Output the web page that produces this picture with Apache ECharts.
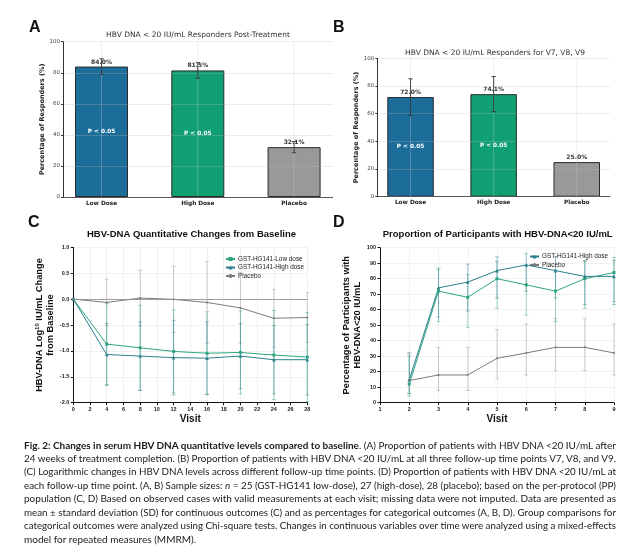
<!DOCTYPE html>
<html><head><meta charset="utf-8">
<script src="https://cdn.jsdelivr.net/npm/echarts@6.0.0/dist/echarts.min.js"></script>
<style>
html,body{margin:0;padding:0;background:#fff;}
#wrap{position:relative;width:640px;height:554px;overflow:hidden;background:#fff;}
#chart{position:absolute;left:0;top:0;width:640px;height:554px;}
#cap{position:absolute;left:24px;top:438.5px;width:592px;font-family:Lato,"Open Sans",sans-serif;font-size:10px;color:#1a1a1a;}
.ln{height:13.45px;line-height:13.45px;white-space:nowrap;}
.ln span.in{display:inline-block;transform-origin:0 50%;}
</style></head><body>
<div id="wrap"><div id="chart"></div><div id="cap"></div></div>
<script>
// ---------- Data ----------
const catsAB = ['Low Dose', 'High Dose', 'Placebo'];
const respA = [84.0, 81.5, 32.1];
const errA = [5.0, 5.0, 3.6];
const respB = [72.0, 74.1, 25.0];
const errB = [13.2, 12.7, 0];
const pText = ['P < 0.05', 'P < 0.05', ''];

const visitsC = [0, 4, 8, 12, 16, 20, 24, 28];
const lowC = [0, -0.87, -0.94, -1.01, -1.045, -1.03, -1.08, -1.12];
const lowSdC = [0, 0.78, 0.82, 0.80, 0.80, 0.80, 0.86, 0.86];
const highC = [0, -1.07, -1.10, -1.13, -1.14, -1.10, -1.17, -1.17];
const highSdC = [0, 0.60, 0.66, 0.72, 0.70, 0.63, 0.66, 0.68];
const placeboC = [0, -0.065, 0.02, -0.005, -0.065, -0.17, -0.37, -0.355];
const placeboSdC = [0, 0.45, 0.54, 0.64, 0.79, 0.68, 0.56, 0.48];

const visitsD = [2, 3, 4, 5, 6, 7, 8, 9];
const lowD = [12, 72, 68, 80, 76, 72, 80, 84];
const lowLoD = [4.2, 52.4, 48.4, 60.9, 56.6, 52.4, 60.9, 65.3];
const lowHiD = [30.0, 85.7, 82.8, 91.1, 88.5, 85.7, 91.1, 93.6];
const highD = [14.8, 74.1, 77.8, 85.2, 88.9, 85.2, 81.5, 81.5];
const highLoD = [5.9, 55.3, 59.2, 67.5, 71.9, 67.5, 63.3, 63.3];
const highHiD = [32.5, 86.8, 89.4, 94.1, 96.1, 94.1, 91.8, 91.8];
const placeboD = [14.3, 17.9, 17.9, 28.6, 32.1, 35.7, 35.7, 32.1];
const placeboLoD = [5.7, 7.9, 7.9, 15.3, 17.9, 20.7, 20.7, 17.9];
const placeboHiD = [31.5, 35.6, 35.6, 47.1, 50.7, 54.2, 54.2, 50.7];

const nameLow = 'GST-HG141-Low dose';
const nameHigh = 'GST-HG141-High dose';
const namePlacebo = 'Placebo';

// ---------- Styles ----------
const FA = 'DejaVu Sans';
const FC = 'Liberation Sans, Arial, sans-serif';
const barColors = ['#1d6d9b', '#119f74', '#98999b'];
const cLow = '#2ea581', cHigh = '#2a7f8d', cPl = '#7b7b7b';
const eLow = 'rgba(46,165,129,0.55)', eHigh = 'rgba(42,127,141,0.55)', ePl = 'rgba(140,140,140,0.5)';

function errRender(color, cap, w) {
  return function (params, api) {
    const x = api.value(0), lo = api.value(1), hi = api.value(2);
    if (!(hi > lo)) return null;
    const a = api.coord([x, hi]), b = api.coord([x, lo]);
    const st = { stroke: color, lineWidth: w, fill: null };
    return { type: 'group', children: [
      { type: 'line', shape: { x1: a[0], y1: a[1], x2: b[0], y2: b[1] }, style: st },
      { type: 'line', shape: { x1: a[0] - cap, y1: a[1], x2: a[0] + cap, y2: a[1] }, style: st },
      { type: 'line', shape: { x1: b[0] - cap, y1: b[1], x2: b[0] + cap, y2: b[1] }, style: st }
    ] };
  };
}
// vertical grid line at each category centre (drawn above the bars, faint)
function vGridRender(params, api) {
  const x = api.value(0);
  const a = api.coord([x, 100]), b = api.coord([x, 0]);
  return { type: 'line', shape: { x1: a[0], y1: a[1], x2: b[0], y2: b[1] },
    style: { stroke: 'rgba(200,200,200,0.4)', lineWidth: 0.8 } };
}

function barX(gi) {
  return { gridIndex: gi, type: 'value', min: -0.4, max: 2.4,
    axisLine: { show: true, onZero: false, lineStyle: { color: '#333', width: 1 } },
    axisTick: { show: false }, splitLine: { show: false },
    axisLabel: { customValues: catsAB.map((c, i) => i), formatter: v => catsAB[v] || '',
      fontFamily: FA, fontWeight: 'bold', fontSize: 5.8, color: '#222', margin: 3 } };
}
function barY(gi, gap) {
  return { gridIndex: gi, type: 'value', min: 0, max: 100, interval: 20, z: 3,
    axisLine: { show: true, onZero: false, lineStyle: { color: '#333', width: 1 } },
    axisTick: { show: true, length: 2, lineStyle: { color: '#333' } },
    axisLabel: { fontSize: 5.5, color: '#444', fontFamily: FA, margin: 3 },
    splitLine: { show: true, lineStyle: { color: 'rgba(185,185,185,0.35)', width: 0.8 } },
    name: 'Percentage of Responders (%)', nameLocation: 'middle', nameGap: gap,
    nameTextStyle: { fontFamily: FA, fontWeight: 'bold', fontSize: 6.5, color: '#222' } };
}
function barSeries(gi, vals, errs, bw) {
  return [
    { type: 'bar', xAxisIndex: gi, yAxisIndex: gi, barWidth: bw, barGap: '-100%', z: 2,
      data: vals.map((v, i) => ({ value: [i, v], itemStyle: { color: barColors[i] } })),
      itemStyle: { borderColor: '#2a2a2a', borderWidth: 1 },
      label: { show: true, position: 'top', distance: 1.5, formatter: p => p.value[1].toFixed(1) + '%',
        fontFamily: FA, fontWeight: 'bold', fontSize: 6, color: '#333' } },
    { type: 'bar', xAxisIndex: gi, yAxisIndex: gi, barWidth: bw, barGap: '-100%', z: 4,
      data: vals.map((v, i) => [i, v]), itemStyle: { color: 'rgba(0,0,0,0)' },
      label: { show: true, position: 'inside', formatter: p => pText[p.dataIndex],
        fontFamily: FA, fontWeight: 'bold', fontSize: 5.8, color: '#fff' } },
    { type: 'custom', xAxisIndex: gi, yAxisIndex: gi, z: 3, silent: true,
      data: catsAB.map((c, i) => [i]), renderItem: vGridRender },
    { type: 'custom', xAxisIndex: gi, yAxisIndex: gi, z: 5,
      data: vals.map((v, i) => [i, v - errs[i], v + errs[i]]),
      renderItem: errRender('#333', 2.2, 0.9) }
  ];
}
function lineX(gi, min, max, interval) {
  return { gridIndex: gi, type: 'value', min: min, max: max, interval: interval,
    axisLine: { show: true, onZero: false, lineStyle: { color: '#111', width: 1 } },
    axisTick: { show: true, length: 2.5, lineStyle: { color: '#111' } },
    axisLabel: { fontSize: 5.5, fontWeight: 'bold', fontFamily: FC, color: '#222', margin: 4 },
    splitLine: { show: true, lineStyle: { color: '#e8e8e8', width: 0.6 } },
    name: 'Visit', nameLocation: 'middle', nameGap: 12,
    nameTextStyle: { fontFamily: FC, fontWeight: 'bold', fontSize: 10, color: '#111' } };
}
function lineY(gi, min, max, interval, fmt, name, gap, rich) {
  const y = { gridIndex: gi, type: 'value', min: min, max: max, interval: interval,
    axisLine: { show: true, onZero: false, lineStyle: { color: '#111', width: 1 } },
    axisTick: { show: true, length: 2.5, lineStyle: { color: '#111' } },
    axisLabel: { fontSize: 5.5, fontWeight: 'bold', fontFamily: FC, color: '#222', margin: 4, formatter: fmt },
    splitLine: { show: true, lineStyle: { color: '#e8e8e8', width: 0.6 } },
    name: name, nameLocation: 'middle', nameGap: gap,
    nameTextStyle: { fontFamily: FC, fontWeight: 'bold', fontSize: 9.3, color: '#111', lineHeight: 11, align: 'center' } };
  if (rich) y.nameTextStyle.rich = rich;
  return y;
}
function lineS(gi, name, xs, ys, color, symbol, size) {
  return { type: 'line', name: name, xAxisIndex: gi, yAxisIndex: gi, z: 4,
    data: xs.map((x, i) => [x, ys[i]]), symbol: symbol, symbolSize: size,
    lineStyle: { width: 1, color: color }, itemStyle: { color: color } };
}
function errS(gi, xs, lo, hi, color) {
  return { type: 'custom', xAxisIndex: gi, yAxisIndex: gi, z: 3,
    data: xs.map((x, i) => [x, lo[i], hi[i]]), renderItem: errRender(color, 2, 0.8) };
}

const richC = {
  a: { fontFamily: FC, fontWeight: 'bold', fontSize: 9.3, color: '#111', lineHeight: 10.7 },
  s: { fontFamily: FC, fontWeight: 'bold', fontSize: 6, color: '#111', lineHeight: 6, verticalAlign: 'top' }
};

const plC = lineS(2, namePlacebo, visitsC, placeboC, cPl, 'circle', 2);
plC.markLine = { silent: true, symbol: 'none', label: { show: false }, animation: false,
  lineStyle: { color: '#8a8a8a', type: 'solid', width: 0.8 }, data: [{ yAxis: 0 }] };

const legendCommon = { orient: 'vertical', itemWidth: 9, itemHeight: 5, itemGap: 2.5, selectedMode: false,
  textStyle: { fontFamily: FC, fontSize: 6.4, color: '#222', padding: [0, 0, 0, -2] } };

const option = {
  animation: false,
  backgroundColor: '#fff',
  grid: [
    { left: 63, top: 41.7, width: 269.6, height: 155.3, outerBoundsMode: 'none' },
    { left: 377.3, top: 58.3, width: 232.7, height: 138.4, outerBoundsMode: 'none' },
    { left: 73.3, top: 247.3, width: 234, height: 155.4, outerBoundsMode: 'none' },
    { left: 380, top: 247.7, width: 234, height: 155, outerBoundsMode: 'none' }
  ],
  xAxis: [barX(0), barX(1), lineX(2, 0, 28, 2), lineX(3, 1, 9, 1)],
  yAxis: [
    barY(0, 15), barY(1, 13),
    lineY(2, -2, 1, 0.5, v => v.toFixed(1),
      '{a|HBV-DNA Log}{s|10}{a| IU/mL Change}\n{a|from Baseline}', 15, richC),
    lineY(3, 0, 100, 10, null, 'Percentage of Participants with\nHBV-DNA<20 IU/mL', 12, null)
  ],
  legend: [
    Object.assign({ data: [nameLow, nameHigh, namePlacebo], left: 220, top: 251 }, legendCommon),
    Object.assign({ data: [nameHigh, namePlacebo], left: 524, top: 248.5 }, legendCommon)
  ],
  graphic: [
    { type: 'text', x: 29, y: 19.5, style: { text: 'A', font: 'bold 16px Liberation Sans', fill: '#111' } },
    { type: 'text', x: 333, y: 19.5, style: { text: 'B', font: 'bold 16px Liberation Sans', fill: '#111' } },
    { type: 'text', x: 28, y: 215, style: { text: 'C', font: 'bold 16px Liberation Sans', fill: '#111' } },
    { type: 'text', x: 333, y: 214.5, style: { text: 'D', font: 'bold 16px Liberation Sans', fill: '#111' } },
    { type: 'text', x: 198, y: 35.5, style: { text: 'HBV DNA < 20 IU/mL Responders Post-Treatment', font: '7.5px DejaVu Sans', fill: '#333', align: 'center', verticalAlign: 'middle' } },
    { type: 'text', x: 495, y: 52.7, style: { text: 'HBV DNA < 20 IU/mL Responders for V7, V8, V9', font: '7.5px DejaVu Sans', fill: '#333', align: 'center', verticalAlign: 'middle' } },
    { type: 'text', x: 191.5, y: 234, style: { text: 'HBV-DNA Quantitative Changes from Baseline', font: 'bold 9.5px Liberation Sans', fill: '#111', align: 'center', verticalAlign: 'middle' } },
    { type: 'text', x: 497.7, y: 234, style: { text: 'Proportion of Participants with HBV-DNA<20 IU/mL', font: 'bold 9.5px Liberation Sans', fill: '#111', align: 'center', verticalAlign: 'middle' } }
  ],
  series: [].concat(
    barSeries(0, respA, errA, 53),
    barSeries(1, respB, errB, 46.5),
    [
      errS(2, visitsC, placeboC.map((v, i) => v - placeboSdC[i]), placeboC.map((v, i) => v + placeboSdC[i]), ePl),
      errS(2, visitsC, lowC.map((v, i) => v - lowSdC[i]), lowC.map((v, i) => v + lowSdC[i]), eLow),
      errS(2, visitsC, highC.map((v, i) => v - highSdC[i]), highC.map((v, i) => v + highSdC[i]), eHigh),
      lineS(2, nameLow, visitsC, lowC, cLow, 'rect', 3),
      lineS(2, nameHigh, visitsC, highC, cHigh, 'triangle', 3.5),
      plC,
      errS(3, visitsD, placeboLoD, placeboHiD, ePl),
      errS(3, visitsD, lowLoD, lowHiD, eLow),
      errS(3, visitsD, highLoD, highHiD, eHigh),
      lineS(3, nameLow, visitsD, lowD, cLow, 'rect', 3),
      lineS(3, nameHigh, visitsD, highD, cHigh, 'triangle', 3.5),
      lineS(3, namePlacebo, visitsD, placeboD, cPl, 'circle', 2)
    ]
  )
};
const chart = echarts.init(document.getElementById('chart'));
chart.setOption(option);

// ---------- Caption ----------
const capLines = [
  [{ b: 1, t: 'Fig. 2: Changes in serum HBV DNA quantitative levels compared to baseline' }, { t: '. (A) Proportion of patients with HBV DNA <20 IU/mL after' }],
  [{ t: '24 weeks of treatment completion. (B) Proportion of patients with HBV DNA <20 IU/mL at all three follow-up time points V7, V8, and V9.' }],
  [{ t: '(C) Logarithmic changes in HBV DNA levels across different follow-up time points. (D) Proportion of patients with HBV DNA <20 IU/mL at' }],
  [{ t: 'each follow-up time point. (A, B) Sample sizes: ' }, { i: 1, t: 'n' }, { t: ' = 25 (GST-HG141 low-dose), 27 (high-dose), 28 (placebo); based on the per-protocol (PP)' }],
  [{ t: 'population (C, D) Based on observed cases with valid measurements at each visit; missing data were not imputed. Data are presented as' }],
  [{ t: 'mean \u00b1 standard deviation (SD) for continuous outcomes (C) and as percentages for categorical outcomes (A, B, D). Group comparisons for' }],
  [{ t: 'categorical outcomes were analyzed using Chi-square tests. Changes in continuous variables over time were analyzed using a mixed-effects' }],
  [{ t: 'model for repeated measures (MMRM).' }]
];
const cap = document.getElementById('cap');
const W = 592;
capLines.forEach((segs, k) => {
  const d = document.createElement('div'); d.className = 'ln';
  const inner = document.createElement('span'); inner.className = 'in';
  segs.forEach(s => {
    const e = document.createElement(s.b ? 'b' : (s.i ? 'i' : 'span'));
    e.textContent = s.t; inner.appendChild(e);
  });
  d.appendChild(inner); cap.appendChild(d);
  const w = inner.getBoundingClientRect().width;
  if (w > W) inner.style.transform = 'scaleX(' + (W / w) + ')';
  else if (k < capLines.length - 1) {
    const n = (inner.textContent.match(/ /g) || []).length;
    if (n) inner.style.wordSpacing = ((W - w) / n) + 'px';
  }
});
</script>
</body></html>
